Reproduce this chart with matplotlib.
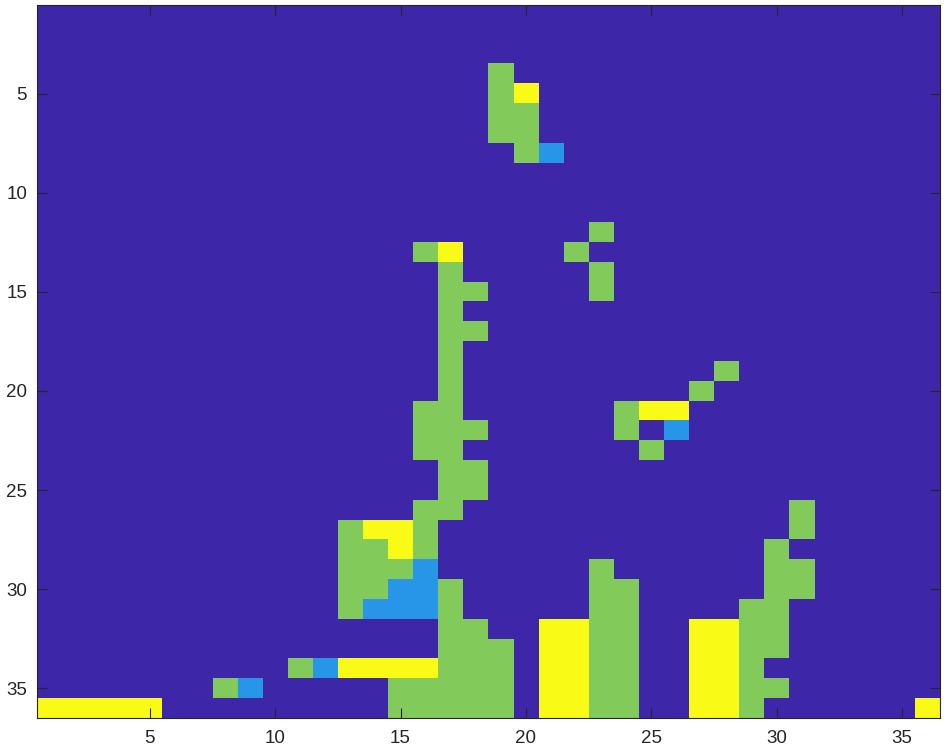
import numpy as np
import matplotlib
matplotlib.use('Agg')
import matplotlib.pyplot as plt
from matplotlib.colors import ListedColormap

# grid size (rows, cols)
nRows, nCols = 36, 36

# cell blocks as (row_start, row_end, col_start, col_end), 1-based, inclusive
yellowCells = [(5, 5, 20, 20), (13, 13, 17, 17), (21, 21, 25, 26), (27, 27, 14, 15),
               (28, 28, 15, 15), (34, 34, 13, 16), (32, 36, 21, 22), (32, 36, 27, 28),
               (36, 36, 1, 5), (36, 36, 36, 36)]
blueCells = [(8, 8, 21, 21), (22, 22, 26, 26), (29, 29, 16, 16), (30, 30, 15, 16),
             (31, 31, 14, 16), (34, 34, 12, 12), (35, 35, 9, 9)]
greenCells = [(4, 7, 19, 19), (6, 8, 20, 20), (12, 12, 23, 23), (13, 13, 16, 16),
              (13, 13, 22, 22), (14, 15, 23, 23), (14, 26, 17, 17), (15, 15, 18, 18),
              (17, 17, 18, 18), (19, 19, 28, 28), (20, 20, 27, 27), (21, 23, 16, 16),
              (21, 22, 24, 24), (22, 22, 18, 18), (23, 23, 25, 25), (24, 25, 18, 18),
              (26, 28, 16, 16), (26, 27, 31, 31), (27, 31, 13, 13), (28, 30, 14, 14),
              (29, 29, 15, 15), (28, 33, 30, 30), (35, 35, 30, 30), (29, 30, 31, 31),
              (29, 36, 23, 23), (30, 36, 24, 24), (30, 36, 17, 17), (32, 36, 18, 18),
              (33, 36, 19, 19), (31, 36, 29, 29), (34, 34, 11, 11), (35, 35, 8, 8),
              (35, 36, 15, 16)]

tickVals = [5, 10, 15, 20, 25, 30, 35]

# parula-like colours for levels 0..3
paleta = ListedColormap(['#3E26A8', '#2896E8', '#82CA5A', '#F9FA15'])

grid = np.zeros((nRows, nCols))
for nivel, bloques in ((1, blueCells), (2, greenCells), (3, yellowCells)):
    for r0, r1, c0, c1 in bloques:
        grid[r0 - 1:r1, c0 - 1:c1] = nivel

plt.rcParams['font.family'] = ['Liberation Sans', 'DejaVu Sans']

fig = plt.figure(figsize=(9.45, 7.51), dpi=100)
ax = fig.add_axes([0.039, 0.044, 0.9555, 0.950])
ax.imshow(grid, cmap=paleta, vmin=-0.5, vmax=3.5, aspect='auto',
          interpolation='nearest', extent=(0.5, nCols + 0.5, nRows + 0.5, 0.5))

ax.set_xticks(tickVals)
ax.set_yticks(tickVals)
ax.tick_params(direction='in', top=True, right=True, length=7, width=0.8,
               color='#262626', labelcolor='#262626', labelsize=13.5)
ax.tick_params(axis='x', pad=9)
ax.tick_params(axis='y', pad=7)
for linea in ax.spines:
    ax.spines[linea].set_color('#262626')
    ax.spines[linea].set_linewidth(0.8)

fig.savefig('out.png', dpi=100)
